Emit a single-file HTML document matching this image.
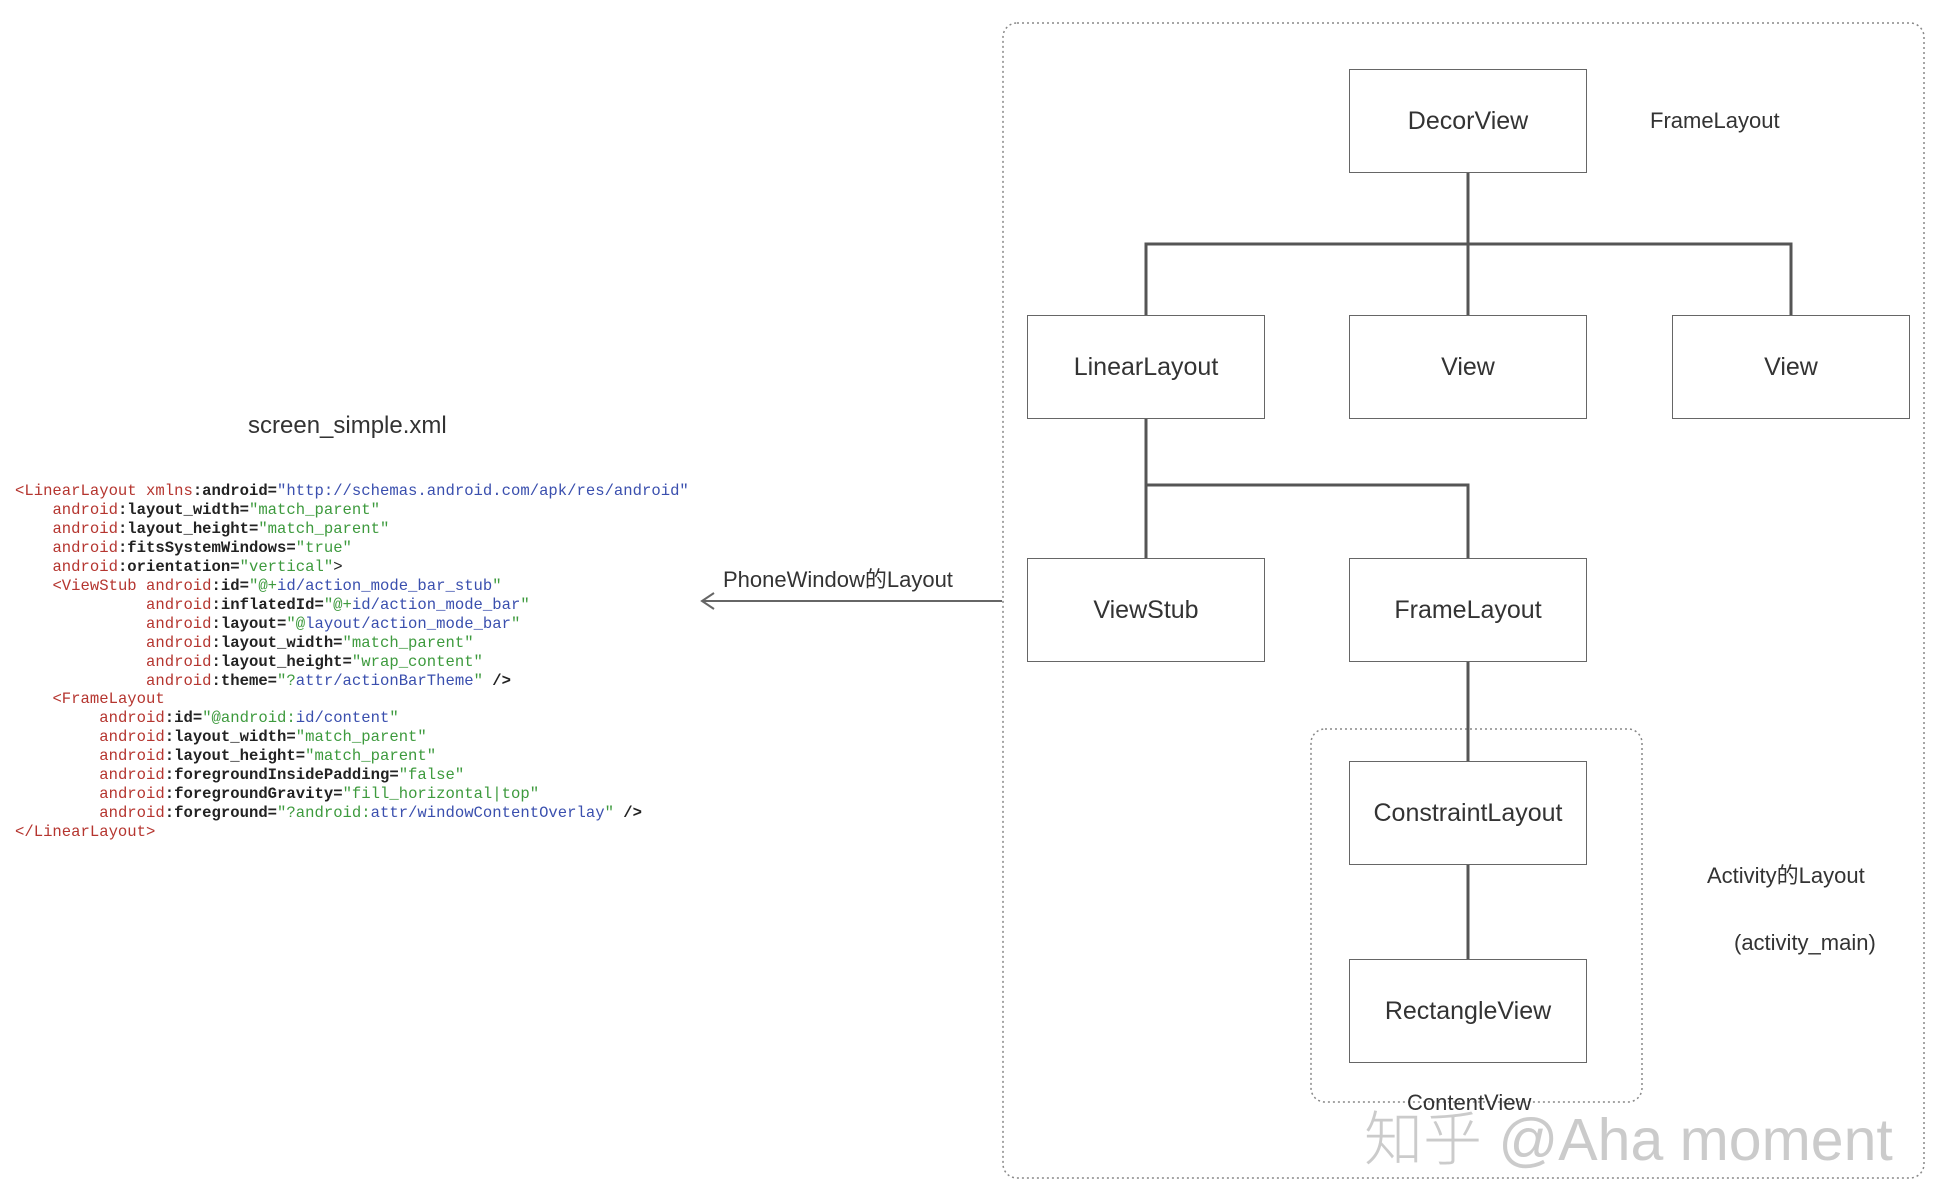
<!DOCTYPE html>
<html><head><meta charset="utf-8"><style>
body{margin:0;width:1935px;height:1192px;background:#fff;position:relative;overflow:hidden;font-family:"Liberation Sans","Noto Sans CJK SC",sans-serif;color:#333}
.t{position:absolute;white-space:nowrap}
pre{position:absolute;left:15px;top:482px;margin:0;font-family:"Liberation Mono","DejaVu Sans Mono",monospace;font-size:15.6px;line-height:18.95px;color:#222;transform:scaleX(1.0);transform-origin:0 0}
.r{color:#b5352f}.b{font-weight:bold;color:#222}.g{color:#3d9a3d}.u{color:#3a4fae}
.box{position:absolute;width:236px;height:102px;border:1.5px solid #666;display:flex;align-items:center;justify-content:center;font-size:25px;color:#333;background:#fff}
</style></head><body>
<svg width="1935" height="1192" style="position:absolute;left:0;top:0">
<rect x="1003" y="23" width="921" height="1155" rx="14" fill="none" stroke="#888" stroke-width="1.5" stroke-dasharray="2,3"/>
<rect x="1311" y="729" width="331" height="373" rx="14" fill="none" stroke="#888" stroke-width="1.5" stroke-dasharray="2,3"/>
<g stroke="#555" stroke-width="3" fill="none">
<path d="M1468 173V244M1146 315V244H1791V315M1468 244V315"/>
<path d="M1146 419V558M1146 485H1468V558"/>
<path d="M1468 662V761M1468 865V959"/>
</g>
<path d="M1002 601H703" stroke="#666" stroke-width="2"/>
<path d="M714 593L702 601L714 609" stroke="#666" stroke-width="2" fill="none"/>
</svg>
<div class="t" style="left:248px;top:412px;font-size:24px;color:#333">screen_simple.xml</div>
<pre><span class="r">&lt;LinearLayout xmlns</span><span class="b">:android=</span><span class="u">"http://schemas.android.com/apk/res/android"</span>
    <span class="r">android</span><span class="b">:layout_width=</span><span class="g">"match_parent"</span>
    <span class="r">android</span><span class="b">:layout_height=</span><span class="g">"match_parent"</span>
    <span class="r">android</span><span class="b">:fitsSystemWindows=</span><span class="g">"true"</span>
    <span class="r">android</span><span class="b">:orientation=</span><span class="g">"vertical"</span>&gt;
    <span class="r">&lt;ViewStub android</span><span class="b">:id=</span><span class="g">"@+</span><span class="u">id/action_mode_bar_stub</span><span class="g">"</span>
              <span class="r">android</span><span class="b">:inflatedId=</span><span class="g">"@+</span><span class="u">id/action_mode_bar</span><span class="g">"</span>
              <span class="r">android</span><span class="b">:layout=</span><span class="g">"@</span><span class="u">layout/action_mode_bar</span><span class="g">"</span>
              <span class="r">android</span><span class="b">:layout_width=</span><span class="g">"match_parent"</span>
              <span class="r">android</span><span class="b">:layout_height=</span><span class="g">"wrap_content"</span>
              <span class="r">android</span><span class="b">:theme=</span><span class="g">"?</span><span class="u">attr/actionBarTheme</span><span class="g">"</span> <span class="b">/&gt;</span>
    <span class="r">&lt;FrameLayout</span>
         <span class="r">android</span><span class="b">:id=</span><span class="g">"@android:</span><span class="u">id/content</span><span class="g">"</span>
         <span class="r">android</span><span class="b">:layout_width=</span><span class="g">"match_parent"</span>
         <span class="r">android</span><span class="b">:layout_height=</span><span class="g">"match_parent"</span>
         <span class="r">android</span><span class="b">:foregroundInsidePadding=</span><span class="g">"false"</span>
         <span class="r">android</span><span class="b">:foregroundGravity=</span><span class="g">"fill_horizontal|top"</span>
         <span class="r">android</span><span class="b">:foreground=</span><span class="g">"?android:</span><span class="u">attr/windowContentOverlay</span><span class="g">"</span> <span class="b">/&gt;</span>
<span class="r">&lt;/LinearLayout&gt;</span></pre>
<div class="t" style="left:723px;top:562px;font-size:22px;color:#333">PhoneWindow的Layout</div>
<div class="box" style="left:1349px;top:69px">DecorView</div>
<div class="t" style="left:1650px;top:108px;font-size:22px">FrameLayout</div>
<div class="box" style="left:1027px;top:315px">LinearLayout</div>
<div class="box" style="left:1349px;top:315px">View</div>
<div class="box" style="left:1672px;top:315px">View</div>
<div class="box" style="left:1027px;top:558px">ViewStub</div>
<div class="box" style="left:1349px;top:558px">FrameLayout</div>
<div class="box" style="left:1349px;top:761px">ConstraintLayout</div>
<div class="box" style="left:1349px;top:959px">RectangleView</div>
<div class="t" style="left:1707px;top:858px;font-size:22px">Activity的Layout</div>
<div class="t" style="left:1734px;top:930px;font-size:22px">(activity_main)</div>
<div class="t" style="left:1407px;top:1090px;font-size:22px">ContentView</div>
<div class="t" style="left:1364px;top:1092px;font-size:59px;color:rgba(160,160,160,0.55);font-weight:300">知乎 @Aha moment</div>
</body></html>
